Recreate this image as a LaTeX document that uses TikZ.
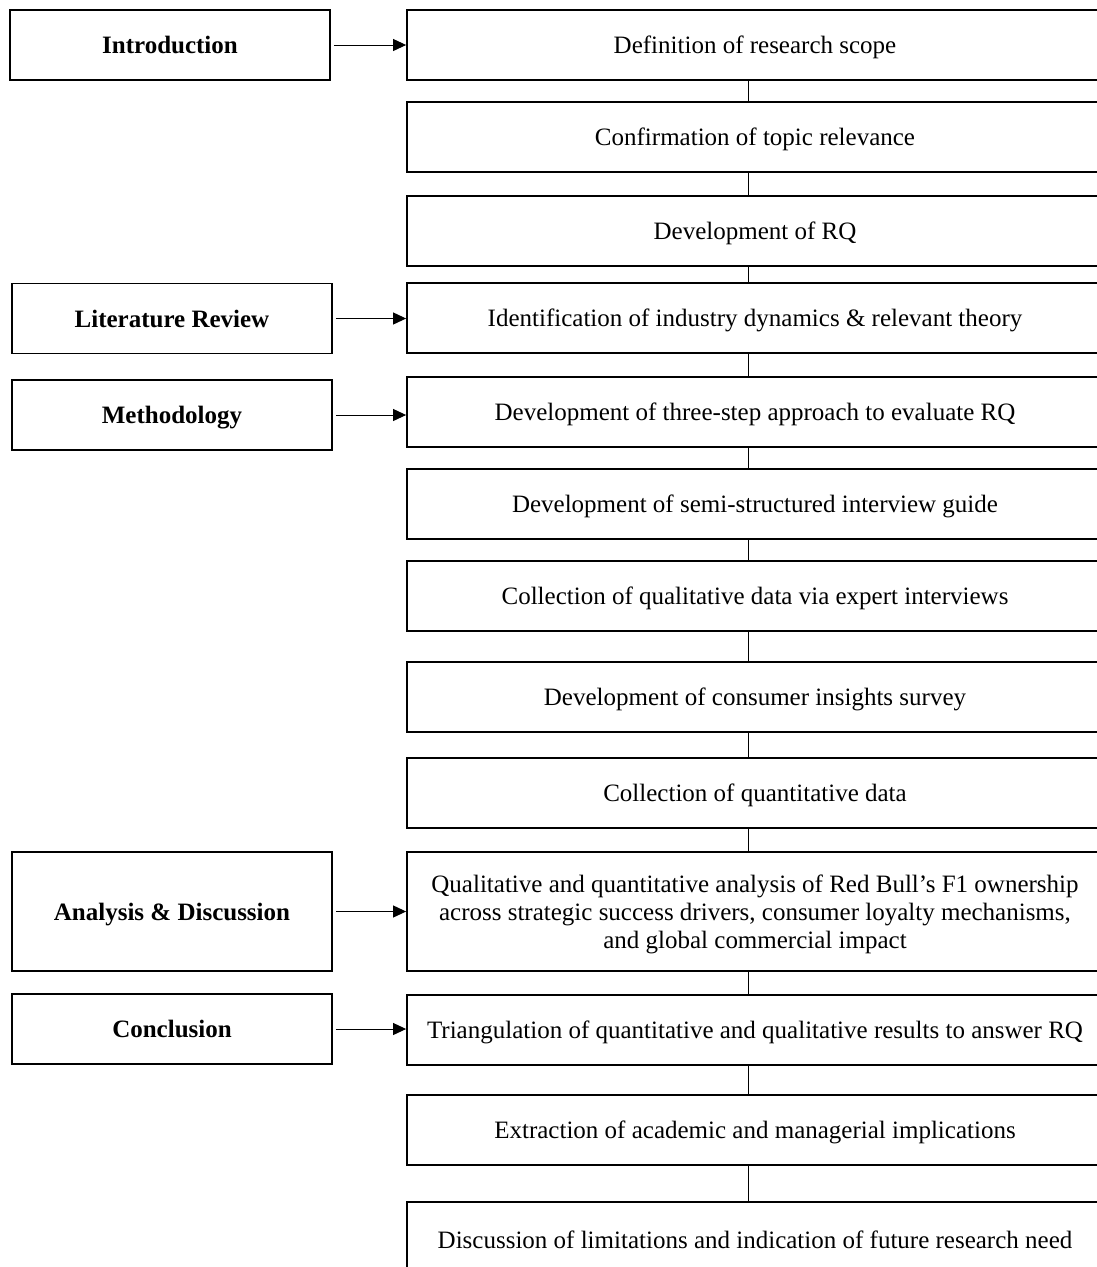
\documentclass[tikz,border=0pt]{standalone}
\usepackage{fontspec}
\setmainfont{Liberation Serif}
\usetikzlibrary{arrows.meta}
\begin{document}
\begin{tikzpicture}[x=1pt,y=-1pt,
  box/.style={draw,line width=1.8pt,inner sep=0pt,align=center,text depth=0pt,font=\fontsize{25}{28}\selectfont},
  rbox/.style={box,minimum width=696pt,minimum height=70pt},
  lbox/.style={box,minimum width=320pt,minimum height=70pt,font=\fontsize{25}{28}\selectfont\bfseries},
  conn/.style={line width=1pt},
  arr/.style={line width=1pt,-{Triangle[length=13pt,width=12pt]},shorten <=3pt}]
\clip (0,0) rectangle (1097,1267);
\fill[white] (0,0) rectangle (1097,1267);
\coordinate (cx) at (748,0);
% right column
\node[rbox] (r1) at (755,45) {Definition of research scope};
\node[rbox] (r2) at (755,137) {Confirmation of topic relevance};
\node[rbox] (r3) at (755,231) {Development of RQ};
\node[rbox] (r4) at (755,318) {Identification of industry dynamics \& relevant theory};
\node[rbox] (r5) at (755,412) {Development of three-step approach to evaluate RQ};
\node[rbox] (r6) at (755,504) {Development of semi-structured interview guide};
\node[rbox] (r7) at (755,596) {Collection of qualitative data via expert interviews};
\node[rbox] (r8) at (755,697) {Development of consumer insights survey};
\node[rbox] (r9) at (755,793) {Collection of quantitative data};
\node[rbox,minimum height=119pt] (r10) at (755,911.5) {Qualitative and quantitative analysis of Red Bull’s F1 ownership\\across strategic success drivers, consumer loyalty mechanisms,\\and global commercial impact};
\node[rbox] (r11) at (755,1030) {Triangulation of quantitative and qualitative results to answer RQ};
\node[rbox] (r12) at (755,1130) {Extraction of academic and managerial implications};
\node[rbox,minimum height=76pt] (r13) at (755,1240) {Discussion of limitations and indication of future research need};
% left column
\node[lbox] (l1) at (170,45) {Introduction};
\node[lbox] (l2) at (172,318.5) {Literature Review};
\node[lbox] (l3) at (172,415) {Methodology};
\node[lbox,minimum height=119pt] (l4) at (172,911.5) {Analysis \& Discussion};
\node[lbox] (l5) at (172,1029) {Conclusion};
% vertical connectors
\foreach \a/\b in {r1/r2,r2/r3,r3/r4,r4/r5,r5/r6,r6/r7,r7/r8,r8/r9,r9/r10,r10/r11,r11/r12,r12/r13}
  \draw[conn] (\a.south -| cx) -- (\b.north -| cx);
% arrows
\draw[arr] (l1.east) -- (l1.east -| r1.west);
\draw[arr] (l2.east) -- (l2.east -| r4.west);
\draw[arr] (l3.east) -- (l3.east -| r5.west);
\draw[arr] (l4.east) -- (l4.east -| r10.west);
\draw[arr] (l5.east) -- (l5.east -| r11.west);
\end{tikzpicture}
\end{document}
